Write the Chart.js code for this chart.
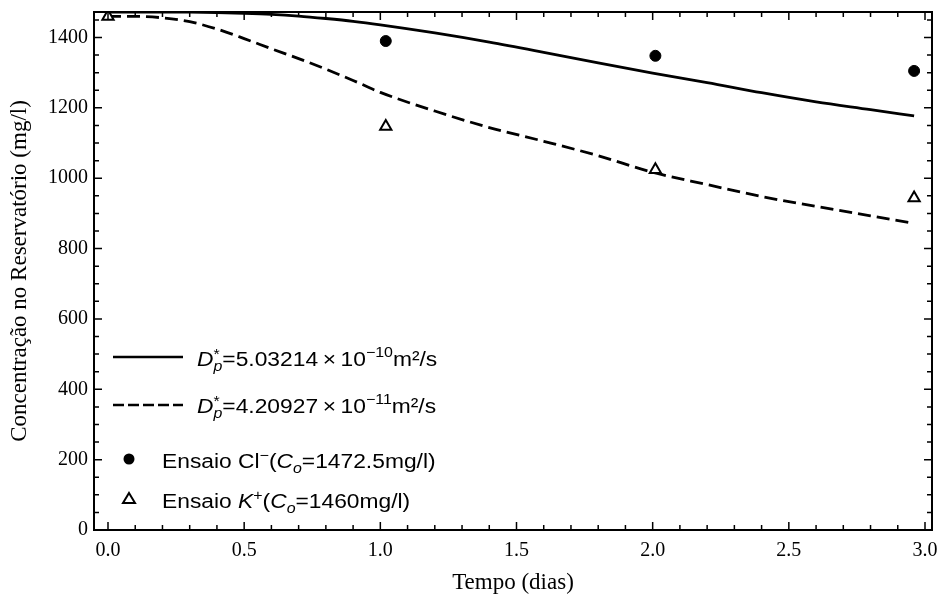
<!DOCTYPE html>
<html>
<head>
<meta charset="utf-8">
<script src="https://cdn.jsdelivr.net/npm/chart.js@4.4.0/dist/chart.umd.min.js"></script>
<style>
  html, body { margin: 0; padding: 0; background: #fff; }
  #wrap { width: 944px; height: 603px; }
</style>
</head>
<body>
<div id="wrap"><canvas id="grafico" width="944" height="603"></canvas></div>
<script>
// Curvas do modelo
const tempoModelo = [0, 0.1, 0.2, 0.3, 0.4, 0.5, 0.6, 0.7, 0.8, 0.9, 1.0, 1.2, 1.4, 1.6, 1.8, 2.0, 2.2, 2.4, 2.6, 2.8, 2.96];
const curvaCl = [1472.5, 1472.5, 1472.5, 1472, 1471, 1469, 1466, 1461, 1454, 1446, 1436, 1413, 1387, 1358, 1328, 1299, 1272, 1243, 1217, 1195, 1177];
const curvaK = [1460, 1460, 1456, 1445, 1424, 1397, 1368, 1340, 1310, 1278, 1244, 1191, 1144, 1105, 1064, 1017, 982, 948, 920, 893, 872];

// Ensaios
const tempoCl = [1.02, 2.01, 2.96];
const ensaioCl = [1390, 1348, 1305];
const tempoK = [0, 1.02, 2.01, 2.96];
const ensaioK = [1460, 1147, 1024, 944];

// Eixos
const ticksX = [0, 0.5, 1.0, 1.5, 2.0, 2.5, 3.0];
const ticksY = [0, 200, 400, 600, 800, 1000, 1200, 1400];

const pares = (xs, ys) => xs.map((x, i) => ({ x, y: ys[i] }));

const serif = "'Liberation Serif', 'Times New Roman', serif";
const sans = "'Liberation Sans', Arial, sans-serif";

// desenha texto com partes (sobrescrito/subscrito), levemente esticado na horizontal
function textoMisto(ctx, x0, base, partes) {
  ctx.save();
  ctx.translate(x0, base);
  ctx.scale(1.14, 1);
  let x = 0;
  partes.forEach(p => {
    if (p.pilha) {
      let w = 0;
      p.pilha.forEach(q => {
        ctx.font = q.f;
        ctx.fillText(q.t, x, q.dy);
        w = Math.max(w, ctx.measureText(q.t).width);
      });
      x += w;
    } else {
      ctx.font = p.f;
      ctx.fillText(p.t, x, p.dy || 0);
      x += ctx.measureText(p.t).width;
    }
  });
  ctx.restore();
}

const normal = "20px " + sans;
const italico = "italic 20px " + sans;
const peq = "14px " + sans;
const peqIt = "italic 14px " + sans;

const molduraPlugin = {
  id: "moldura",
  afterDraw(chart) {
    const ctx = chart.ctx;
    const a = chart.chartArea;
    const sx = chart.scales.x, sy = chart.scales.y;
    ctx.save();
    ctx.strokeStyle = "#000";
    ctx.lineWidth = 2;
    ctx.strokeRect(a.left, a.top, a.right - a.left, a.bottom - a.top);

    // ticks internos
    ctx.lineWidth = 1.5;
    ctx.beginPath();
    for (let i = 0; i <= 30; i++) {
      const v = i / 10;
      const px = sx.getPixelForValue(v);
      const len = i % 5 === 0 ? 8 : 5;
      ctx.moveTo(px, a.bottom); ctx.lineTo(px, a.bottom - len);
      ctx.moveTo(px, a.top); ctx.lineTo(px, a.top + len);
    }
    for (let v = 0; v <= 1450; v += 50) {
      const py = sy.getPixelForValue(v);
      const len = v % 200 === 0 ? 8 : 5;
      ctx.moveTo(a.left, py); ctx.lineTo(a.left + len, py);
      ctx.moveTo(a.right, py); ctx.lineTo(a.right - len, py);
    }
    ctx.stroke();

    // legenda
    ctx.fillStyle = "#000";
    ctx.textBaseline = "alphabetic";
    ctx.textAlign = "left";
    ctx.lineWidth = 2.5;
    ctx.beginPath();
    ctx.moveTo(113, 357); ctx.lineTo(183, 357);
    ctx.stroke();
    ctx.setLineDash([11, 4]);
    ctx.beginPath();
    ctx.moveTo(113, 405); ctx.lineTo(183, 405);
    ctx.stroke();
    ctx.setLineDash([]);

    textoMisto(ctx, 197, 366, [
      { t: "D", f: italico },
      { pilha: [{ t: "*", f: peq, dy: -7 }, { t: "p", f: peqIt, dy: 5 }] },
      { t: "=5.03214\u2009\u00d7\u200910", f: normal },
      { t: "\u221210", f: peq, dy: -9 },
      { t: "m\u00b2/s", f: normal }
    ]);
    textoMisto(ctx, 197, 413, [
      { t: "D", f: italico },
      { pilha: [{ t: "*", f: peq, dy: -7 }, { t: "p", f: peqIt, dy: 5 }] },
      { t: "=4.20927\u2009\u00d7\u200910", f: normal },
      { t: "\u221211", f: peq, dy: -9 },
      { t: "m\u00b2/s", f: normal }
    ]);

    ctx.beginPath();
    ctx.arc(129, 459, 5.5, 0, Math.PI * 2);
    ctx.fill();
    textoMisto(ctx, 162, 468, [
      { t: "Ensaio Cl", f: normal },
      { t: "\u2212", f: peq, dy: -8 },
      { t: "(", f: normal },
      { t: "C", f: italico },
      { t: "o", f: peqIt, dy: 5 },
      { t: "=1472.5mg/l)", f: normal }
    ]);

    ctx.lineWidth = 2;
    ctx.beginPath();
    ctx.moveTo(129, 493); ctx.lineTo(135, 503); ctx.lineTo(123, 503); ctx.closePath();
    ctx.stroke();
    textoMisto(ctx, 162, 508, [
      { t: "Ensaio ", f: normal },
      { t: "K", f: italico },
      { t: "+", f: peq, dy: -8 },
      { t: "(", f: normal },
      { t: "C", f: italico },
      { t: "o", f: peqIt, dy: 5 },
      { t: "=1460mg/l)", f: normal }
    ]);
    ctx.restore();
  }
};

new Chart(document.getElementById("grafico"), {
  type: "line",
  data: {
    datasets: [
      {
        data: pares(tempoCl, ensaioCl),
        showLine: false,
        pointStyle: "circle",
        pointRadius: 5.5,
        pointBackgroundColor: "#000",
        pointBorderColor: "#000",
        order: 0
      },
      {
        data: pares(tempoK, ensaioK),
        showLine: false,
        pointStyle: "triangle",
        pointRadius: 6.5,
        pointBackgroundColor: "#fff",
        pointBorderColor: "#000",
        pointBorderWidth: 2,
        order: 0
      },
      {
        data: pares(tempoModelo, curvaCl),
        borderColor: "#000",
        borderWidth: 2.8,
        pointRadius: 0,
        cubicInterpolationMode: "monotone",
        order: 1
      },
      {
        data: pares(tempoModelo, curvaK),
        borderColor: "#000",
        borderWidth: 2.8,
        borderDash: [13, 6],
        pointRadius: 0,
        cubicInterpolationMode: "monotone",
        order: 1
      }
    ]
  },
  options: {
    responsive: false,
    animation: false,
    devicePixelRatio: 1,
    layout: { padding: { top: 12, right: 12, left: 0, bottom: 0 } },
    plugins: { legend: { display: false }, tooltip: { enabled: false } },
    scales: {
      x: {
        type: "linear",
        min: -0.0514,
        max: 3.0257,
        afterBuildTicks: s => { s.ticks = ticksX.map(v => ({ value: v })); },
        afterFit: s => { s.height = 73; s.paddingLeft = 0; s.paddingRight = 0; },
        grid: { display: false, drawTicks: false },
        border: { display: false },
        ticks: {
          padding: 9,
          color: "#000",
          font: { family: serif, size: 20 },
          maxRotation: 0,
          callback: v => Number(v).toFixed(1)
        },
        title: {
          display: true,
          text: "Tempo (dias)",
          color: "#000",
          font: { family: serif, size: 23 },
          padding: { top: 0, bottom: 6 }
        }
      },
      y: {
        type: "linear",
        min: 0,
        max: 1472.5,
        afterBuildTicks: s => { s.ticks = ticksY.map(v => ({ value: v })); },
        afterFit: s => { s.width = 94; s.paddingTop = 0; s.paddingBottom = 0; },
        grid: { display: false, drawTicks: false },
        border: { display: false },
        ticks: {
          padding: 6,
          color: "#000",
          font: { family: serif, size: 20 },
          callback: v => String(v)
        },
        title: {
          display: true,
          text: "Concentração no Reservatório (mg/l)",
          color: "#000",
          font: { family: serif, size: 23 },
          padding: { top: 6, bottom: 0 }
        }
      }
    }
  },
  plugins: [molduraPlugin]
});
</script>
</body>
</html>
